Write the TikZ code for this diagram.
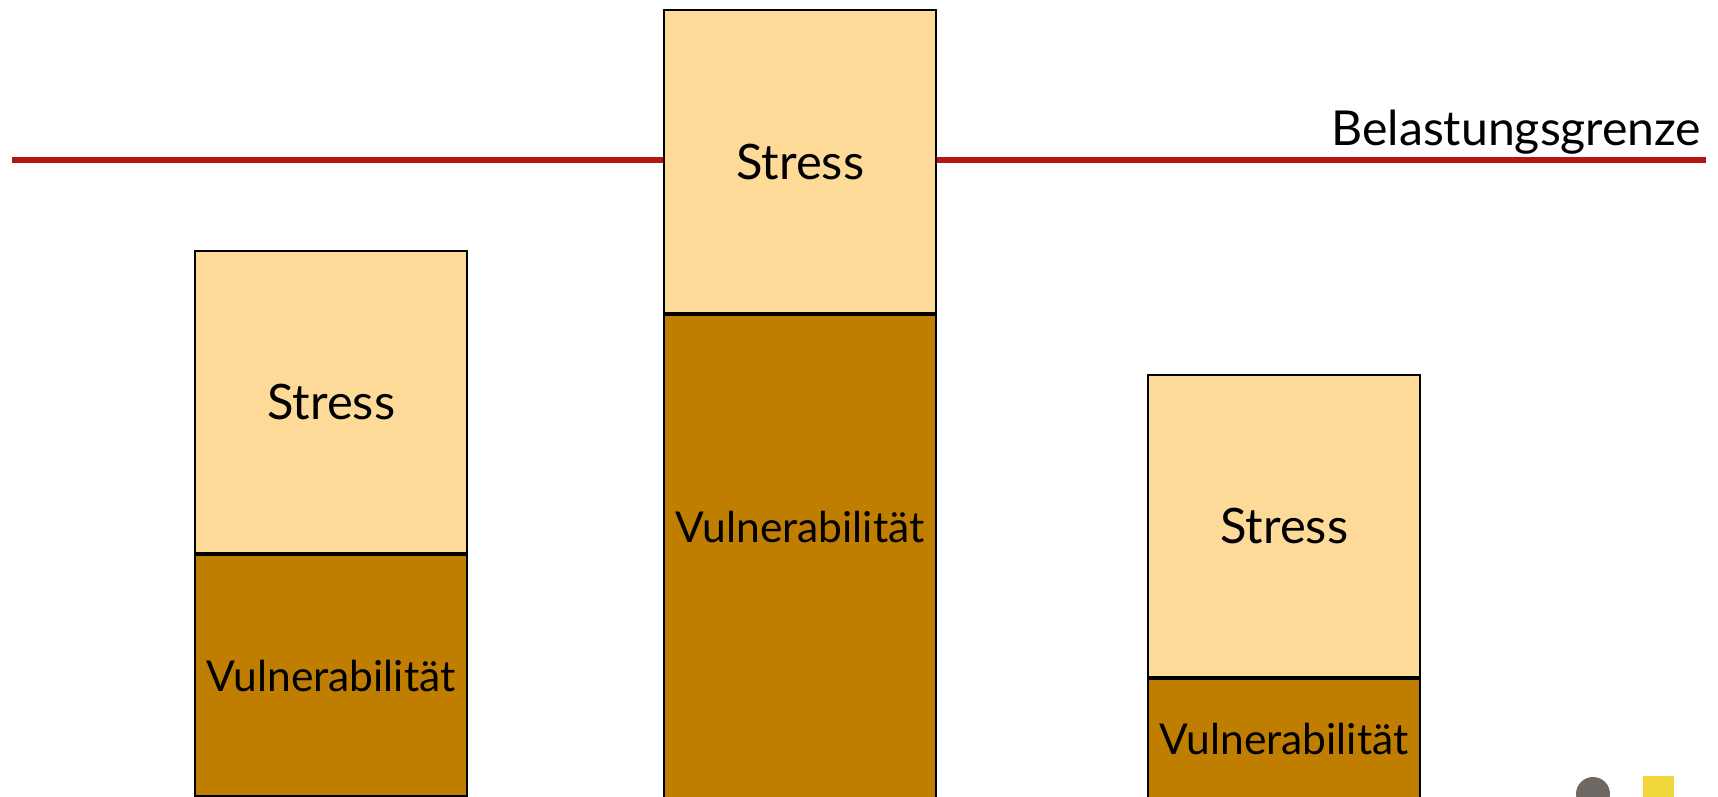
\documentclass[tikz,border=0pt]{standalone}
\usepackage{fontspec}
\setmainfont{Lato}
\usetikzlibrary{positioning}
\definecolor{stressfill}{RGB}{253,218,152}
\definecolor{vulnfill}{RGB}{191,126,0}
\definecolor{grenzrot}{RGB}{178,22,24}
\definecolor{punktgrau}{RGB}{110,104,100}
\definecolor{punktgelb}{RGB}{240,215,60}
\tikzset{
  balken/.style={draw=black, line width=0.6pt, rectangle, inner sep=0pt, minimum width=2.72cm},
  stressbox/.style={balken, fill=stressfill, font=\fontsize{13.9}{16}\selectfont},
  vulnbox/.style={balken, fill=vulnfill, font=\fontsize{12.1}{14}\selectfont},
  grenze/.style={grenzrot, line width=1.7pt}
}
\begin{document}
\begin{tikzpicture}[x=0.01cm,y=-0.01cm]
\clip (0,0) rectangle (1718,797);
\useasboundingbox (0,0) rectangle (1718,797);
% Belastungsgrenze
\coordinate (links) at (12,160);
\coordinate (rechts) at (1706,160);
\draw [grenze] (links) -- (rechts);
\node [anchor=base east, inner sep=0pt, font=\fontsize{13.7}{15}\selectfont] (grenztext) at (1702,145) {Belastungsgrenze};
% Balken 1
\node [stressbox, minimum height=3.02cm, anchor=north west] (stress1) at (194,250) {Stress};
\node [vulnbox, minimum height=2.41cm, anchor=north] (vuln1) at (stress1.south) {Vulnerabilit\"at};
% Balken 2
\node [stressbox, minimum height=3.03cm, anchor=north west] (stress2) at (663,9) {Stress};
\node [vulnbox, minimum height=5.0cm, anchor=north] (vuln2) at (stress2.south) {};
\node [vulnbox, draw=none, fill=none] (vulntext2) at (vuln2.center |- 0,527) {Vulnerabilit\"at};
% Balken 3
\node [stressbox, minimum height=3.02cm, anchor=north west] (stress3) at (1147,374) {Stress};
\node [vulnbox, minimum height=1.2cm, anchor=north] (vuln3) at (stress3.south) {Vulnerabilit\"at};
% Logo unten rechts
\fill [punktgrau] (1593,794) circle (17);
\fill [punktgelb] (1643,776) rectangle (1674,810);
\end{tikzpicture}
\end{document}
